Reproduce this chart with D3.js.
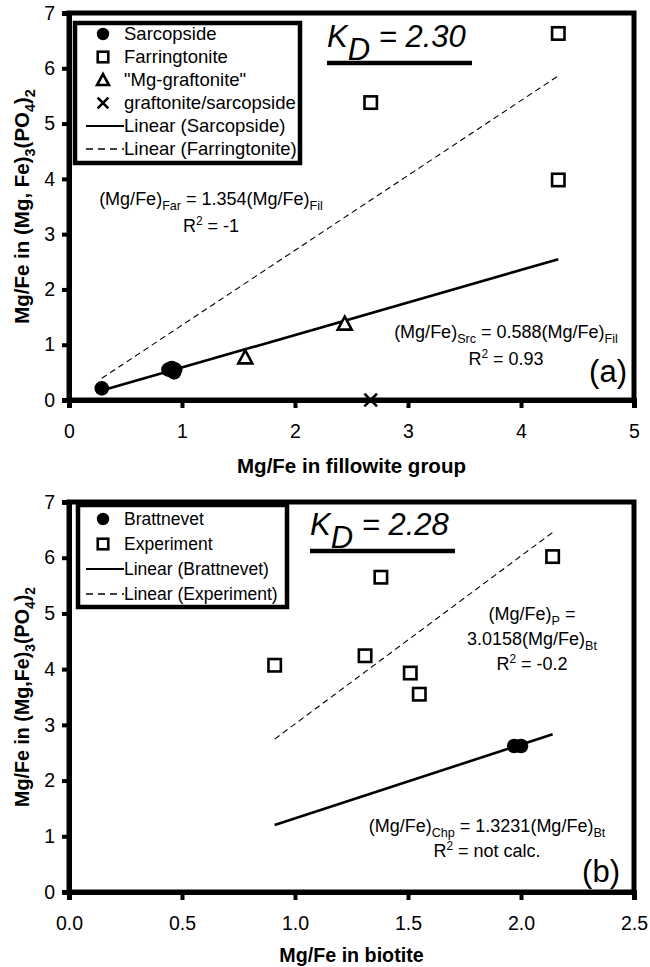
<!DOCTYPE html>
<html>
<head>
<meta charset="utf-8">
<script src="https://d3js.org/d3.v7.min.js"></script>
<style>
  body { margin: 0; background: #fff; }
  text { fill: #000; }
</style>
</head>
<body>
<div id="chart"></div>
<script>
// ---- data ----
// panel (a)
var sarcopside = [[0.29, 0.21], [0.88, 0.55], [0.91, 0.58], [0.93, 0.50], [0.94, 0.55]];
var farringtonite = [[2.67, 5.38], [4.33, 6.63], [4.33, 3.98]];
var mgGraftonite = [[1.56, 0.77], [2.44, 1.38]];
var graftSarc = [[2.67, 0.0]];
var sarcSlope = 0.588;
var farrSlope = 1.354;
var xTicksA = [0, 1, 2, 3, 4, 5];

// panel (b)
var brattnevet = [[1.97, 2.62], [2.00, 2.62]];
var experiment = [[0.91, 4.07], [1.31, 4.24], [1.38, 5.65], [1.51, 3.93], [1.55, 3.55], [2.14, 6.02]];
var brattSlope = 1.3231;
var expSlope = 3.0158;
var xTicksB = [0, 0.5, 1.0, 1.5, 2.0, 2.5];

var yTicks = [0, 1, 2, 3, 4, 5, 6, 7];

var legendA = ['Sarcopside', 'Farringtonite', '"Mg-graftonite"', 'graftonite/sarcopside', 'Linear (Sarcopside)', 'Linear (Farringtonite)'];
var legendB = ['Brattnevet', 'Experiment', 'Linear (Brattnevet)', 'Linear (Experiment)'];

var font = "'Liberation Sans', Arial, sans-serif";

var svg = d3.select('#chart')
    .append('svg')
    .attr('width', 650)
    .attr('height', 967)
    .style('background-color', '#fff');

var left = 69, right = 634;

// draw a marker of a given kind
function symbol(g, kind, cx, cy, s) {
    s = s || 1;
    if (kind == 'circle') {
        g.append('circle').attr('cx', cx).attr('cy', cy).attr('r', 7.3 * s).attr('fill', '#000');
    } else if (kind == 'square') {
        var h = 6.2 * s;
        g.append('rect').attr('x', cx - h).attr('y', cy - h).attr('width', 2 * h).attr('height', 2 * h)
            .attr('fill', '#fff').attr('stroke', '#000').attr('stroke-width', 2.6);
    } else if (kind == 'triangle') {
        var t = 7 * s;
        g.append('path')
            .attr('d', 'M' + cx + ',' + (cy - t) + 'L' + (cx + t) + ',' + (cy + t * 0.85) + 'L' + (cx - t) + ',' + (cy + t * 0.85) + 'Z')
            .attr('fill', '#fff').attr('stroke', '#000').attr('stroke-width', 2.6);
    } else if (kind == 'cross') {
        var c = 6.3 * s;
        g.append('path')
            .attr('d', 'M' + (cx - c) + ',' + (cy - c) + 'L' + (cx + c) + ',' + (cy + c) + 'M' + (cx - c) + ',' + (cy + c) + 'L' + (cx + c) + ',' + (cy - c))
            .attr('stroke', '#000').attr('stroke-width', 2.6).attr('fill', 'none');
    }
}

// text with sub/superscripts: parts = [[str, 'sub'|'sup'|'']]
function richText(g, x, y, parts, size, anchor, weight) {
    var t = g.append('text')
        .attr('x', x).attr('y', y)
        .attr('text-anchor', anchor || 'start')
        .style('font-family', font)
        .style('font-size', size + 'px')
        .style('font-weight', weight || 'normal');
    var shift = 0;
    parts.forEach(function (p) {
        var dy = 0, fs = size;
        if (p[1] == 'sub') { dy = size * 0.28 - shift; shift = size * 0.28; fs = size * 0.7; }
        else if (p[1] == 'sup') { dy = -size * 0.4 - shift; shift = -size * 0.4; fs = size * 0.66; }
        else { dy = -shift; shift = 0; }
        t.append('tspan').attr('dy', dy).style('font-size', fs + 'px').text(p[0]);
    });
    return t;
}

function panel(opt) {
    var g = svg.append('g');
    var x = d3.scaleLinear().domain(opt.xDomain).range([left, right]);
    var y = d3.scaleLinear().domain([0, 7]).range([opt.bottom, opt.top]);

    // frame
    g.append('rect')
        .attr('x', left).attr('y', opt.top)
        .attr('width', right - left).attr('height', opt.bottom - opt.top)
        .attr('fill', 'none').attr('stroke', '#000').attr('stroke-width', 5);

    var xAxis = d3.axisBottom(x).tickValues(opt.xTicks).tickSize(8).tickPadding(16).tickFormat(opt.fmt);
    var yAxis = d3.axisLeft(y).tickValues(yTicks).tickSize(7).tickPadding(7).tickFormat(d3.format('d'));

    var gx = g.append('g').attr('transform', 'translate(0,' + opt.bottom + ')').call(xAxis);
    var gy = g.append('g').attr('transform', 'translate(' + left + ',0)').call(yAxis);
    [gx, gy].forEach(function (a) {
        a.select('.domain').attr('stroke-width', 5);
        a.selectAll('.tick line').attr('stroke-width', 4);
        a.selectAll('.tick text')
            .style('font-family', font)
            .style('font-size', '19.5px')
            .attr('fill', '#000');
    });

    // axis titles
    richText(g, (left + right) / 2, opt.xTitleY, [[opt.xTitle, '']], opt.titleSize, 'middle', 'bold');
    var yt = richText(g, 0, 0, opt.yTitle, opt.titleSize, 'middle', 'bold');
    yt.attr('transform', 'translate(29,' + ((opt.top + opt.bottom) / 2) + ') rotate(-90)');

    // regression lines over the data extent
    var allX = [];
    opt.series.forEach(function (s) { s.data.forEach(function (d) { allX.push(d[0]); }); });
    var ext = d3.extent(allX);
    var line = d3.line().x(function (d) { return x(d[0]); }).y(function (d) { return y(d[1]); });
    opt.fits.forEach(function (f) {
        g.append('path')
            .datum(ext.map(function (v) { return [v, v * f.slope]; }))
            .attr('d', line)
            .attr('fill', 'none')
            .attr('stroke', '#000')
            .attr('stroke-width', f.dash ? 1.1 : 2.6)
            .attr('stroke-dasharray', f.dash ? '6,4' : null);
    });

    // points
    opt.series.forEach(function (s) {
        s.data.forEach(function (d) {
            symbol(g, s.kind, x(d[0]), y(d[1]));
        });
    });

    // legend
    var lg = g.append('g');
    lg.append('rect')
        .attr('x', opt.legend.x).attr('y', opt.legend.y)
        .attr('width', opt.legend.w).attr('height', opt.legend.h)
        .attr('fill', '#fff').attr('stroke', '#000').attr('stroke-width', 4.5);
    opt.legend.items.forEach(function (it, i) {
        var cy = opt.legend.y0 + i * opt.legend.step;
        if (it.kind == 'solid' || it.kind == 'dash') {
            lg.append('line').attr('x1', 86).attr('x2', 124).attr('y1', cy).attr('y2', cy)
                .attr('stroke', '#000').attr('stroke-width', it.kind == 'solid' ? 2.2 : 1.6)
                .attr('stroke-dasharray', it.kind == 'dash' ? '7,5' : null);
        } else {
            symbol(lg, it.kind, 103, cy, 0.85);
        }
        lg.append('text')
            .attr('x', 124).attr('y', cy + 6)
            .style('font-family', font).style('font-size', opt.legend.fs + 'px')
            .text(it.label);
    });

    // K_D annotation
    var kd = g.append('text')
        .attr('x', opt.kd.x).attr('y', opt.kd.y)
        .style('font-family', font).style('font-size', '31px').style('font-style', 'italic');
    kd.append('tspan').text('K');
    kd.append('tspan').attr('dy', 13).text('D');
    kd.append('tspan').attr('dy', -13).text(' = ' + opt.kd.value);
    g.append('line')
        .attr('x1', opt.kd.x).attr('x2', opt.kd.x + 145)
        .attr('y1', opt.kd.line).attr('y2', opt.kd.line)
        .attr('stroke', '#000').attr('stroke-width', 4.5);

    // equations
    opt.notes.forEach(function (n) {
        richText(g, n.x, n.y, n.parts, n.size || 18, n.anchor || 'middle');
    });
}

panel({
    top: 13, bottom: 400,
    xDomain: [0, 5], xTicks: xTicksA, fmt: d3.format('d'),
    xTitle: 'Mg/Fe in fillowite group', xTitleY: 473, titleSize: 20.5,
    yTitle: [['Mg/Fe in (Mg, Fe)', ''], ['3', 'sub'], ['(PO', ''], ['4', 'sub'], [')', ''], ['2', 'sub']],
    series: [
        {data: sarcopside, kind: 'circle'},
        {data: farringtonite, kind: 'square'},
        {data: mgGraftonite, kind: 'triangle'},
        {data: graftSarc, kind: 'cross'}
    ],
    fits: [{slope: sarcSlope, dash: false}, {slope: farrSlope, dash: true}],
    legend: {
        x: 75, y: 23, w: 225, h: 140, y0: 34, step: 23, fs: 18.5,
        items: [
            {label: legendA[0], kind: 'circle'},
            {label: legendA[1], kind: 'square'},
            {label: legendA[2], kind: 'triangle'},
            {label: legendA[3], kind: 'cross'},
            {label: legendA[4], kind: 'solid'},
            {label: legendA[5], kind: 'dash'}
        ]
    },
    kd: {x: 327, y: 47, line: 63, value: '2.30'},
    notes: [
        {x: 211, y: 205, parts: [['(Mg/Fe)', ''], ['Far', 'sub'], [' = 1.354(Mg/Fe)', ''], ['Fil', 'sub']]},
        {x: 211, y: 232, parts: [['R', ''], ['2', 'sup'], [' = -1', '']]},
        {x: 506, y: 338, parts: [['(Mg/Fe)', ''], ['Src', 'sub'], [' = 0.588(Mg/Fe)', ''], ['Fil', 'sub']]},
        {x: 506, y: 365, parts: [['R', ''], ['2', 'sup'], [' = 0.93', '']]},
        {x: 627, y: 382, parts: [['(a)', '']], size: 31, anchor: 'end'}
    ]
});

panel({
    top: 502, bottom: 892,
    xDomain: [0, 2.5], xTicks: xTicksB, fmt: d3.format('.1f'),
    xTitle: 'Mg/Fe in biotite', xTitleY: 962, titleSize: 19.7,
    yTitle: [['Mg/Fe in (Mg,Fe)', ''], ['3', 'sub'], ['(PO', ''], ['4', 'sub'], [')', ''], ['2', 'sub']],
    series: [
        {data: brattnevet, kind: 'circle'},
        {data: experiment, kind: 'square'}
    ],
    fits: [{slope: brattSlope, dash: false}, {slope: expSlope, dash: true}],
    legend: {
        x: 78, y: 505, w: 209, h: 102, y0: 519, step: 25, fs: 17.5,
        items: [
            {label: legendB[0], kind: 'circle'},
            {label: legendB[1], kind: 'square'},
            {label: legendB[2], kind: 'solid'},
            {label: legendB[3], kind: 'dash'}
        ]
    },
    kd: {x: 310, y: 535, line: 551, value: '2.28'},
    notes: [
        {x: 532, y: 620, parts: [['(Mg/Fe)', ''], ['P', 'sub'], [' =', '']]},
        {x: 532, y: 645, parts: [['3.0158(Mg/Fe)', ''], ['Bt', 'sub']]},
        {x: 532, y: 670, parts: [['R', ''], ['2', 'sup'], [' = -0.2', '']]},
        {x: 487, y: 832, parts: [['(Mg/Fe)', ''], ['Chp', 'sub'], [' = 1.3231(Mg/Fe)', ''], ['Bt', 'sub']]},
        {x: 487, y: 857, parts: [['R', ''], ['2', 'sup'], [' = not calc.', '']]},
        {x: 620, y: 882, parts: [['(b)', '']], size: 31, anchor: 'end'}
    ]
});
</script>
</body>
</html>
